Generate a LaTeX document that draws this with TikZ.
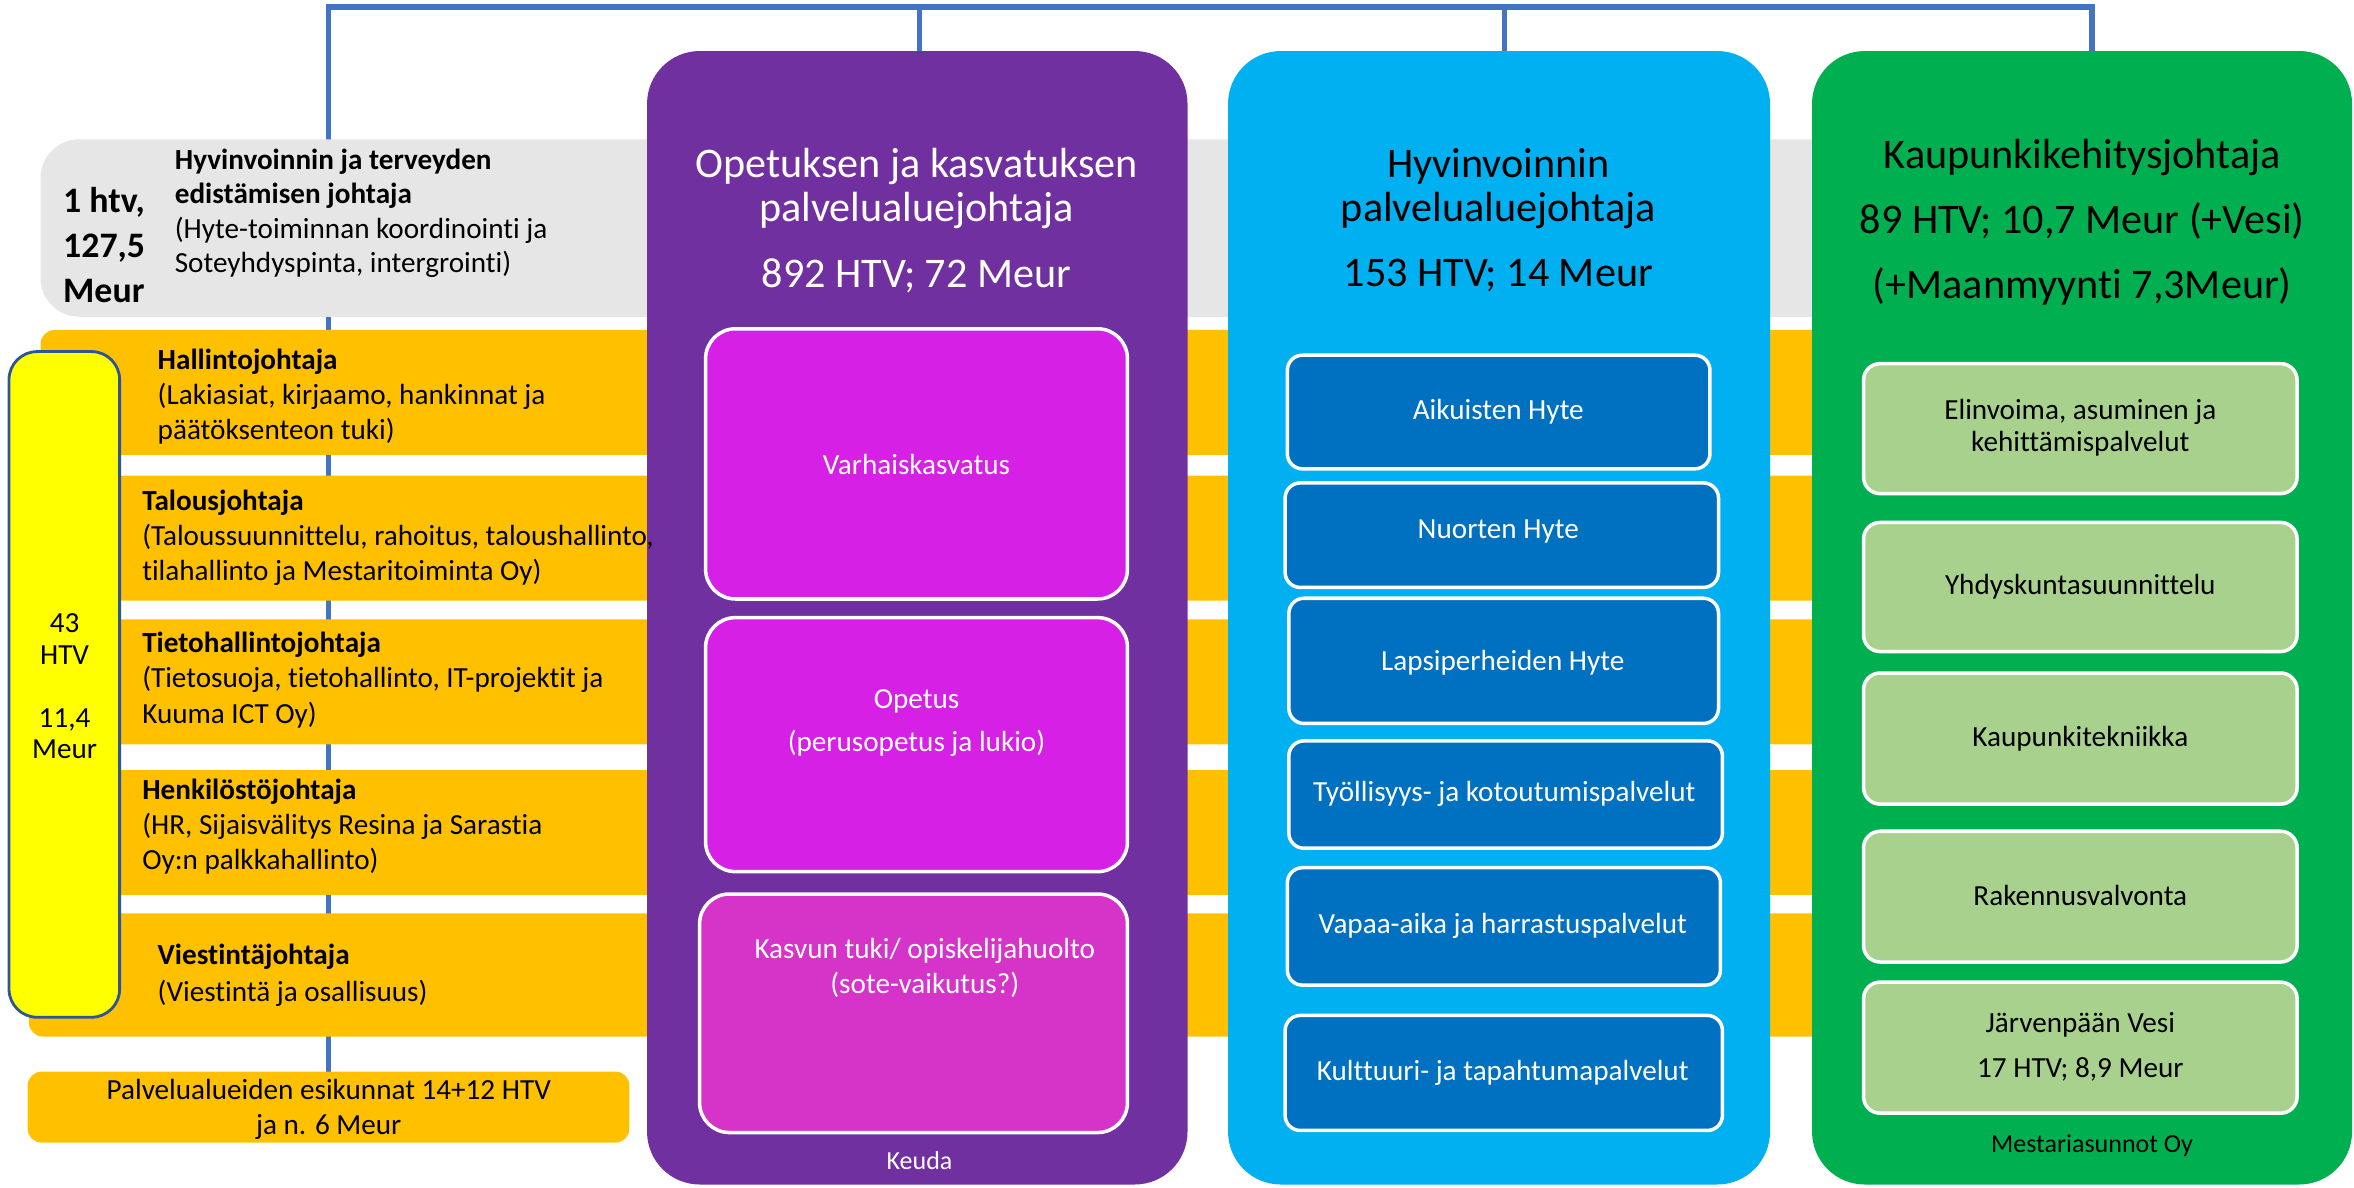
\documentclass[tikz,border=0pt]{standalone}
\usepackage{fontspec}
\setmainfont{Carlito}[Ligatures={NoCommon,NoContextual}]
\usetikzlibrary{fit}
\pgfdeclarelayer{bg}
\pgfsetlayers{bg,main}
\definecolor{cpurple}{HTML}{7030A0}
\definecolor{cmag}{HTML}{D620E6}
\definecolor{cmagb}{HTML}{D633C8}
\definecolor{cblue}{HTML}{00B0F0}
\definecolor{cdblue}{HTML}{0070C0}
\definecolor{cgreen}{HTML}{00B050}
\definecolor{clgreen}{HTML}{A9D18E}
\definecolor{corange}{HTML}{FFC000}
\definecolor{cgray}{HTML}{E6E6E6}
\definecolor{cyellow}{HTML}{FFFF00}
\definecolor{cline}{HTML}{4472C4}
\definecolor{cyborder}{HTML}{2F5597}
\begin{document}
\begin{tikzpicture}[x=0.015013cm,y=-0.015013cm,
  area/.style={inner sep=0pt, outer sep=0pt},
  bigbox/.style={area, rounded corners=15pt},
  bar/.style={area, fill=corange, rounded corners=4pt},
  magbox/.style={area, fill=cmag, draw=white, line width=1pt, rounded corners=8.5pt},
  bluebox/.style={area, fill=cdblue, draw=white, line width=1pt, rounded corners=4.3pt},
  grbox/.style={area, fill=clgreen, draw=white, line width=1pt, rounded corners=4.7pt},
  txtL/.style={inner sep=0pt, anchor=west, align=left, font=\fontsize{8.3}{10}\selectfont},
  txtC/.style={inner sep=0pt, align=center, font=\fontsize{8.3}{10}\selectfont},
  wtxt/.style={txtC, text=white},
  ttl/.style={inner sep=0pt, align=center, font=\fontsize{12}{12.5}\selectfont},
  tiny/.style={inner sep=0pt, font=\fontsize{7.4}{9}\selectfont},
  conn/.style={draw=cline, line width=1.5pt},
]
\useasboundingbox (0,0) rectangle (1568,791);

% grey band and orange bars
\node[fit={(27,92.8) (1300,211)}, area, fill=cgray, rounded corners=11pt] (hyte) {};
\node[fit={(27,219.8) (1300,303)}, bar] (hal) {};
\node[fit={(27,316.8) (1300,400)}, bar] (tal) {};
\node[fit={(27,412.5) (1300,495.8)}, bar] (tie) {};
\node[fit={(27,512.9) (1300,596)}, bar] (hen) {};
\node[fit={(19.3,608.4) (1300,690.5)}, bar] (vie) {};
\node[fit={(18.4,713.8) (419.3,761.1)}, bar] (palv) {};
\node[fit={(6,234.2) (79.7,677.6)}, area, fill=cyellow, draw=cyborder, line width=0.8pt, rounded corners=8pt] (yel) {};

% columns
\node[fit={(431,34) (791,789)}, bigbox, fill=cpurple] (opet) {};
\node[fit={(818,34) (1179,789)}, bigbox, fill=cblue] (hyv) {};
\node[fit={(1207,34) (1566.7,789)}, bigbox, fill=cgreen] (kau) {};

% connectors
\coordinate (d1) at (612.6,4.6);
\coordinate (d2) at (1002,4.6);
\coordinate (d3) at (1393.5,4.6);
\begin{pgfonlayer}{bg}
\draw[conn] (palv.north) |- (d3) -- (d3 |- kau.north);
\draw[conn] (d1) -- (d1 |- opet.north);
\draw[conn] (d2) -- (d2 |- hyv.north);
\end{pgfonlayer}

% purple column
\node[ttl, text=white] (opt1) at (610.5,125.5) {Opetuksen ja kasvatuksen\\palvelualuejohtaja};
\node[ttl, text=white] (opt2) at (610.5,183.5) {892 HTV; 72 Meur};
\node[fit={(470,219) (751,399)}, magbox] (varh) {};
\node[wtxt] (tvarh) at (610.5,309.5) {Varhaiskasvatus};
\node[fit={(470,411.4) (751,580.6)}, magbox] (opetus) {};
\node[wtxt, font=\fontsize{8.3}{12.4}\selectfont] (topetus) at (610.5,481.6) {Opetus\\(perusopetus ja lukio)};
\node[fit={(466,595.5) (751,754.4)}, magbox, fill=cmagb] (kasvu) {};
\node[wtxt, font=\fontsize{8.3}{9.8}\selectfont] (tkasvu) at (616,644.6) {Kasvun tuki/ opiskelijahuolto\\(sote-vaikutus?)};
\node[tiny, text=white] (keuda) at (612.5,773) {Keuda};

% blue column
\node[ttl, text=black] (hyv1) at (998,125.5) {Hyvinvoinnin\\palvelualuejohtaja};
\node[ttl, text=black] (hyv2) at (998,183.5) {153 HTV; 14 Meur};
\node[fit={(857.5,236.6) (1139,312.3)}, bluebox] (aik) {};
\node[fit={(856,321.7) (1144.7,391.3)}, bluebox] (nuo) {};
\node[fit={(858.5,398.5) (1144.7,481.9)}, bluebox] (lap) {};
\node[fit={(858.5,493.5) (1147.3,565)}, bluebox] (tyo) {};
\node[fit={(857.5,578) (1146,656.2)}, bluebox] (vap) {};
\node[fit={(856,676.4) (1147.3,753)}, bluebox] (kul) {};
\node[wtxt] (taik) at (998,274.5) {Aikuisten Hyte};
\node[wtxt] (tnuo) at (998,354) {Nuorten Hyte};
\node[wtxt] (tlap) at (1001,441.4) {Lapsiperheiden Hyte};
\node[wtxt] (ttyo) at (1002,528.9) {Työllisyys- ja kotoutumispalvelut};
\node[wtxt] (tvap) at (1001,616.7) {Vapaa-aika ja harrastuspalvelut};
\node[wtxt] (tkul) at (1001,714.9) {Kulttuuri- ja tapahtumapalvelut};

% green column
\node[ttl, text=black, font=\fontsize{12}{18.5}\selectfont] (kau1) at (1387,147.9) {Kaupunkikehitysjohtaja\\89 HTV; 10,7 Meur (+Vesi)\\(+Maanmyynti 7,3Meur)};
\node[fit={(1241.3,242.2) (1530.1,328.8)}, grbox] (eli) {};
\node[fit={(1241.3,348) (1530.1,434)}, grbox] (yhd) {};
\node[fit={(1241.3,448.3) (1530.1,535.6)}, grbox] (kte) {};
\node[fit={(1241.3,553.7) (1530.1,640.8)}, grbox] (rak) {};
\node[fit={(1241.3,654.2) (1530.1,741.5)}, grbox] (jar) {};
\node[txtC, font=\fontsize{8.3}{9}\selectfont] (teli) at (1385.7,285) {Elinvoima, asuminen ja\\kehittämispalvelut};
\node[txtC] (tyhd) at (1385.7,390.5) {Yhdyskuntasuunnittelu};
\node[txtC] (tkte) at (1385.7,492.2) {Kaupunkitekniikka};
\node[txtC] (trak) at (1385.7,596.8) {Rakennusvalvonta};
\node[txtC, font=\fontsize{8.3}{12.7}\selectfont] (tjar) at (1385.7,697.5) {Järvenpään Vesi\\17 HTV; 8,9 Meur};
\node[tiny, text=black] (mest) at (1393.5,763) {Mestariasunnot Oy};

% left texts
\node[inner sep=0pt, anchor=west, align=left, font=\fontsize{10.2}{12.8}\bfseries] (t1htv) at (41.6,163.2) {1 htv,\\127,5\\Meur};
\node[txtL, font=\fontsize{8.3}{9.8}\selectfont] (thyte) at (116,142.1) {\textbf{Hyvinvoinnin ja terveyden}\\\textbf{edistämisen johtaja}\\(Hyte-toiminnan koordinointi ja\\Soteyhdyspinta, intergrointi)};
\node[txtL] (thal) at (104.6,264.2) {\textbf{Hallintojohtaja}\\(Lakiasiat, kirjaamo, hankinnat ja\\päätöksenteon tuki)};
\node[txtL] (ttal) at (94.3,358.4) {\textbf{Talousjohtaja}\\(Taloussuunnittelu, rahoitus, taloushallinto,\\tilahallinto ja Mestaritoiminta Oy)};
\node[txtL] (ttie) at (94.3,453) {\textbf{Tietohallintojohtaja}\\(Tietosuoja, tietohallinto, IT-projektit ja\\Kuuma ICT Oy)};
\node[txtL] (then) at (94.3,550.6) {\textbf{Henkilöstöjohtaja}\\(HR, Sijaisvälitys Resina ja Sarastia\\Oy:n palkkahallinto)};
\node[txtL, font=\fontsize{8.3}{10.5}\selectfont] (tvie) at (104.6,649.5) {\textbf{Viestintäjohtaja}\\(Viestintä ja osallisuus)};
\node[txtC, font=\fontsize{8.3}{9}\selectfont] (tyel) at (43,457.2) {43\\HTV\\[9pt]11,4\\Meur};
\node[txtC] (tpalv) at (219,738.8) {Palvelualueiden esikunnat 14+12 HTV\\ja n. 6 Meur};
\end{tikzpicture}
\end{document}
